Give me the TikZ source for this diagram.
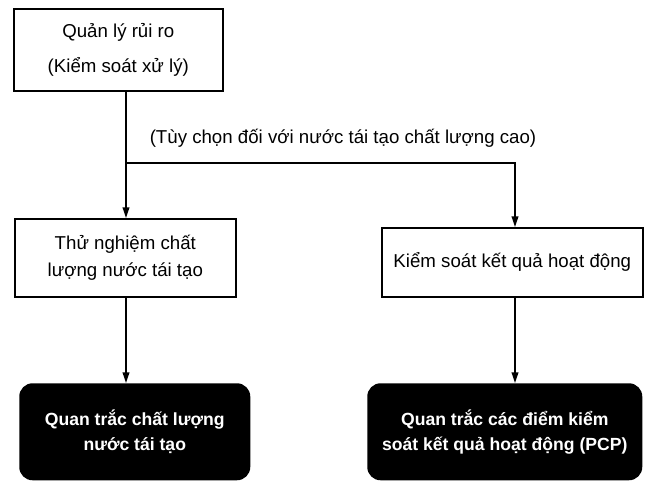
\documentclass[tikz,border=0pt]{standalone}
\usepackage{fontspec}
\setmainfont{Liberation Sans}
\usetikzlibrary{arrows.meta}
\begin{document}
\begin{tikzpicture}[x=0.75pt,y=-0.75pt,
  every node/.style={font=\fontsize{14}{16}\selectfont},
  wbox/.style={draw=black,line width=1.2pt,fill=white,align=center,inner sep=0pt},
  bbox/.style={fill=black,rounded corners=10pt,align=center,text=white,inner sep=0pt,font=\fontsize{13.2}{19}\selectfont\bfseries},
  conn/.style={line width=1.2pt,-{Triangle[length=8pt,width=5pt]}}]
\useasboundingbox (0,0) rectangle (649,483);
\node[wbox,anchor=north west,minimum width=209*0.75pt,minimum height=82*0.75pt,font=\fontsize{14}{26}\selectfont] (risk) at (13,8) {Quản lý rủi ro\\(Kiểm soát xử lý)};
\node[wbox,anchor=north west,minimum width=221*0.75pt,minimum height=78*0.75pt,font=\fontsize{14}{20}\selectfont] (test) at (14,218) {Thử nghiệm chất\\lượng nước tái tạo};
\node[wbox,anchor=north west,minimum width=261*0.75pt,minimum height=69*0.75pt] (ctrl) at (381,227) {Kiểm soát kết quả hoạt động};
\node[bbox,anchor=north west,minimum width=231*0.75pt,minimum height=97*0.75pt] (mon1) at (19,383) {Quan trắc chất lượng\\nước tái tạo};
\node[bbox,anchor=north west,minimum width=275*0.75pt,minimum height=97*0.75pt] (mon2) at (367,383) {Quan trắc các điểm kiểm\\soát kết quả hoạt động (PCP)};
\coordinate (split) at (126,163);
\coordinate (turn) at (515,163);
\node[anchor=center] (opt) at (343,138) {(Tùy chọn đối với nước tái tạo chất lượng cao)};
\draw[conn] (risk.south -| split) -- (split) -- (test.north -| split);
\draw[conn] (split) -- (turn) -- (ctrl.north -| turn);
\draw[conn] (test.south -| split) -- (mon1.north -| split);
\draw[conn] (ctrl.south -| turn) -- (mon2.north -| turn);
\end{tikzpicture}
\end{document}
